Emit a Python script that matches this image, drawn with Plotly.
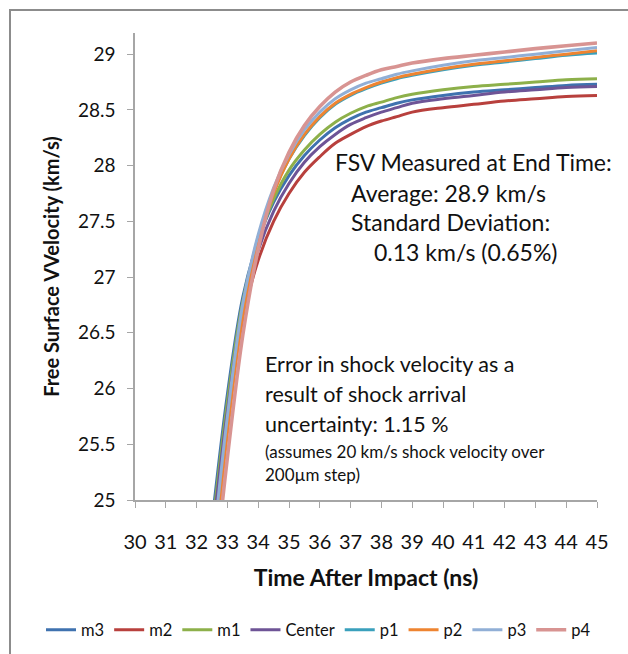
import plotly.graph_objects as go

# ---- data ----
time_ns = [32.5, 33.0, 33.5, 34.0, 34.5, 35.0, 35.5, 36.0, 36.5, 37.0,
           37.5, 38.0, 38.5, 39.0, 40.0, 41.0, 42.0, 43.0, 44.0, 45.0]

m3 = [24.80, 25.95, 26.82, 27.33, 27.67, 27.91, 28.09, 28.23, 28.34, 28.42,
      28.48, 28.52, 28.56, 28.59, 28.63, 28.66, 28.68, 28.70, 28.72, 28.73]
m2 = [24.60, 25.75, 26.62, 27.15, 27.50, 27.75, 27.94, 28.08, 28.20, 28.28,
      28.35, 28.40, 28.44, 28.48, 28.52, 28.55, 28.58, 28.60, 28.62, 28.63]
m1 = [24.72, 25.88, 26.78, 27.33, 27.70, 27.96, 28.14, 28.28, 28.39, 28.47,
      28.53, 28.57, 28.61, 28.64, 28.68, 28.71, 28.73, 28.75, 28.77, 28.78]
center = [24.65, 25.80, 26.71, 27.24, 27.59, 27.84, 28.03, 28.17, 28.28, 28.37,
          28.43, 28.48, 28.52, 28.56, 28.60, 28.63, 28.66, 28.68, 28.70, 28.71]
p1 = [24.41, 25.69, 26.72, 27.36, 27.77, 28.06, 28.27, 28.43, 28.55, 28.63,
      28.69, 28.74, 28.78, 28.81, 28.86, 28.90, 28.93, 28.96, 28.99, 29.01]
p2 = [24.30, 25.60, 26.66, 27.32, 27.75, 28.06, 28.28, 28.44, 28.56, 28.64,
      28.70, 28.75, 28.79, 28.82, 28.87, 28.91, 28.94, 28.97, 29.00, 29.03]
p3 = [24.48, 25.75, 26.76, 27.38, 27.80, 28.10, 28.32, 28.48, 28.60, 28.68,
      28.74, 28.78, 28.82, 28.85, 28.90, 28.94, 28.97, 29.00, 29.03, 29.06]
p4 = [24.10, 25.38, 26.48, 27.25, 27.78, 28.12, 28.36, 28.53, 28.66, 28.75,
      28.81, 28.86, 28.89, 28.92, 28.96, 28.99, 29.02, 29.05, 29.075, 29.10]

series_names = ["m3", "m2", "m1", "Center", "p1", "p2", "p3", "p4"]
series_values = [m3, m2, m1, center, p1, p2, p3, p4]
series_colors = ["#3F72AF", "#B8403D", "#8DB04A", "#6E5496",
                 "#3AA0BC", "#EE8431", "#91AFD6", "#D89492"]
series_widths = [3, 3, 3, 3, 3, 3, 3, 3.6]

x_ticks = list(range(30, 46))
y_ticks = [25, 25.5, 26, 26.5, 27, 27.5, 28, 28.5, 29]

FONT = "Lato, 'Open Sans', sans-serif"

# plot-area geometry (pixels on the 628x654 page)
L, R, T, B = 135, 597, 33, 500
W_PAGE, H_PAGE = 628, 654


def px_x(px):
    return (px - L) / (R - L)


def px_y(py):
    return (B - py) / (B - T)


fig = go.Figure()
for name, vals, col, w in zip(series_names, series_values, series_colors, series_widths):
    fig.add_trace(go.Scatter(
        x=time_ns, y=vals, name=name, mode="lines",
        line=dict(color=col, width=w, shape="spline", smoothing=1.0),
    ))

annotations = []
fsv = dict(family=FONT, size=23, color="#111111")
err = dict(family=FONT, size=21.5, color="#111111")
small = dict(family=FONT, size=17, color="#111111")
for text, x, y, f in [
    ("FSV Measured at End Time:", 333, 162, fsv),
    ("Average: 28.9 km/s", 349, 193, fsv),
    ("Standard Deviation:", 349, 222, fsv),
    ("0.13 km/s (0.65%)", 372, 252, fsv),
    ("Error in shock velocity as a", 263, 364, err),
    ("result of shock arrival", 263, 394, err),
    ("uncertainty: 1.15 %", 263, 424, err),
    ("(assumes 20 km/s shock velocity over", 263, 451, small),
    ("200µm step)", 263, 474, small),
]:
    annotations.append(dict(
        text=text, x=px_x(x), y=px_y(y), xref="paper", yref="paper",
        xanchor="left", yanchor="middle", showarrow=False, font=f,
    ))

fig.update_layout(
    width=W_PAGE, height=H_PAGE,
    margin=dict(l=L, r=W_PAGE - R, t=T, b=H_PAGE - B, autoexpand=False),
    paper_bgcolor="white", plot_bgcolor="white",
    font=dict(family=FONT, color="#111111"),
    showlegend=True,
    legend=dict(
        orientation="h",
        x=px_x(41), xanchor="left",
        y=px_y(630), yanchor="middle",
        font=dict(family=FONT, size=16.5, color="#111111"),
        itemwidth=30, tracegroupgap=0,
    ),
    annotations=annotations,
    shapes=[dict(
        type="rect", xref="paper", yref="paper",
        x0=px_x(10), y0=px_y(800), x1=px_x(800), y1=px_y(10),
        line=dict(color="#8c8c8c", width=2), fillcolor="rgba(0,0,0,0)",
        layer="below",
    )],
)

fig.update_xaxes(
    range=[30, 45], tickmode="array", tickvals=x_ticks,
    ticktext=[str(v) for v in x_ticks],
    showgrid=False, zeroline=False, automargin=False,
    showline=True, linecolor="#a6a6a6", linewidth=1.5,
    ticks="outside", ticklen=6, tickcolor="#a6a6a6", tickwidth=1,
    ticklabelstandoff=17,
    tickfont=dict(family=FONT, size=20, color="#111111"),
    title=dict(text="<b>Time After Impact (ns)</b>", standoff=18,
               font=dict(family=FONT, size=23, color="#111111")),
)
fig.update_yaxes(
    range=[25, 29.19], tickmode="array", tickvals=y_ticks,
    ticktext=["25", "25.5", "26", "26.5", "27", "27.5", "28", "28.5", "29"],
    showgrid=False, zeroline=False, automargin=False,
    showline=True, linecolor="#a6a6a6", linewidth=1.5,
    ticks="outside", ticklen=6, tickcolor="#a6a6a6", tickwidth=1,
    ticklabelstandoff=8,
    tickfont=dict(family=FONT, size=19, color="#111111"),
    title=dict(text="<b>Free Surface VVelocity (km/s)</b>", standoff=13,
               font=dict(family=FONT, size=20, color="#111111")),
)

fig.write_html("out.html")
